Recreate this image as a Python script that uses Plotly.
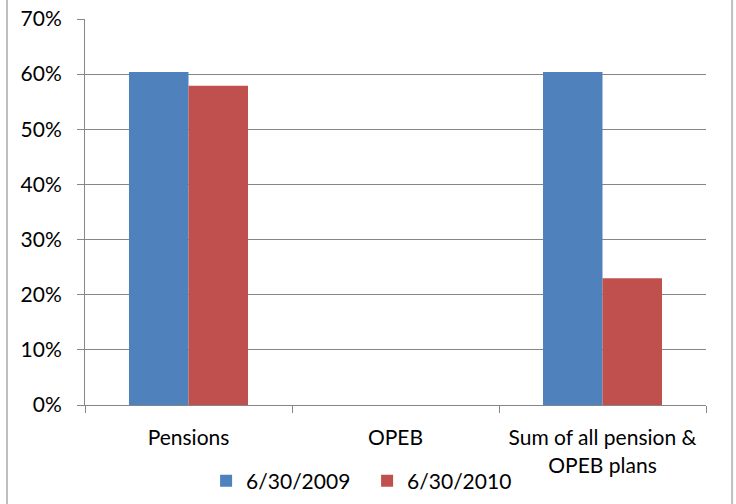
import plotly.graph_objects as go

categories = ["Pensions", "OPEB", "Sum of all pension &<br>OPEB plans"]
series_names = ["6/30/2009", "6/30/2010"]
values_2009 = [0.604, None, 0.604]
values_2010 = [0.579, None, 0.230]
colors = ["#4F81BD", "#C0504D"]
y_ticks = [0, 0.1, 0.2, 0.3, 0.4, 0.5, 0.6, 0.7]
y_tick_labels = ["0%", "10%", "20%", "30%", "40%", "50%", "60%", "70%"]

FONT = "Lato, Carlito, Calibri, sans-serif"
FS = 21

fig = go.Figure()
for name, vals, col in zip(series_names, [values_2009, values_2010], colors):
    fig.add_trace(go.Bar(x=categories, y=vals, name=name, marker=dict(color=col, line=dict(width=0))))

fig.update_layout(
    width=736, height=504,
    margin=dict(l=85, r=30, t=19, b=99, autoexpand=False),
    paper_bgcolor="white", plot_bgcolor="white",
    barmode="group", bargap=0.425, bargroupgap=0,
    font=dict(family=FONT, size=FS, color="#000000"),
    showlegend=True,
    legend=dict(orientation="h", x=0.195, xanchor="left", y=-0.197, yanchor="middle",
                font=dict(size=FS), itemwidth=30, tracegroupgap=0,
                entrywidth=116, entrywidthmode="pixels"),
    xaxis=dict(showline=True, linecolor="#868686", linewidth=1,
               ticks="outside", tickson="boundaries", ticklen=7, tickcolor="#868686",
               showgrid=False, tickfont=dict(size=FS), automargin=False,
               ticklabelstandoff=14),
    yaxis=dict(range=[0, 0.7], tickvals=y_ticks, ticktext=y_tick_labels,
               showline=True, linecolor="#868686", linewidth=1,
               ticks="outside", ticklen=7, tickcolor="#868686",
               showgrid=True, gridcolor="#868686", gridwidth=1,
               zeroline=False, tickfont=dict(size=FS), automargin=False,
               ticklabelstandoff=11),
)

# outer chart frame (left and right edges visible)
fig.add_shape(type="line", xref="paper", yref="paper", x0=-0.1256, x1=-0.1256, y0=-0.3, y1=1.1,
              line=dict(color="#BFBFBF", width=2))
fig.add_shape(type="line", xref="paper", yref="paper", x0=1.042, x1=1.042, y0=-0.3, y1=1.1,
              line=dict(color="#BFBFBF", width=2))

fig.write_html("out.html", config={"displayModeBar": False},
               post_script="document.body.style.margin='0';document.body.style.overflow='hidden';")
